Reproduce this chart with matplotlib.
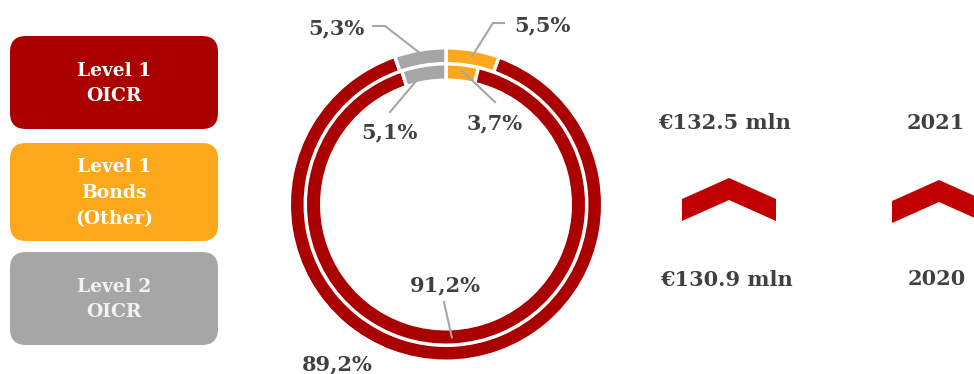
import numpy as np
import matplotlib.pyplot as plt
from matplotlib.patches import FancyBboxPatch, Polygon

# shares by category, clockwise from 12 o'clock
categories = ["Level 1\nBonds\n(Other)", "Level 1\nOICR", "Level 2\nOICR"]
share_2021 = [5.5, 89.2, 5.3]   # outer ring
share_2020 = [3.7, 91.2, 5.1]   # inner ring
label_2021 = ["5,5%", "89,2%", "5,3%"]
label_2020 = ["3,7%", "91,2%", "5,1%"]

legend_order = ["Level 1\nOICR", "Level 1\nBonds\n(Other)", "Level 2\nOICR"]
totals = ["€132.5 mln", "€130.9 mln"]
years = ["2021", "2020"]

RED = "#ab0000"
ORANGE = "#fda81b"
GREY = "#a6a6a6"
DARK = "#404040"
colors = {"Level 1\nOICR": RED, "Level 1\nBonds\n(Other)": ORANGE, "Level 2\nOICR": GREY}
legend_text = {"Level 1\nOICR": "white", "Level 1\nBonds\n(Other)": "white", "Level 2\nOICR": "#f2f2f2"}

W, H = 974, 374
fig = plt.figure(figsize=(W / 100, H / 100), dpi=100)
ax = fig.add_axes([0, 0, 1, 1])

SERIF = "DejaVu Serif"
cx, cy = 446, 204.5
edge = 2.5                      # white separator, points
pad = edge * 100 / 72 / 2       # half of it in pixels
r_out, r_in, ring_w = 155 + pad, 139 + pad, 13 + 2 * pad

wedge_colors = [colors[c] for c in categories]
wp = dict(width=ring_w, edgecolor="white", linewidth=edge)
outer, _ = ax.pie(share_2021, radius=r_out, center=(cx, cy), colors=wedge_colors,
                  startangle=-90, counterclock=True, wedgeprops=wp, frame=True)
inner, _ = ax.pie(share_2020, radius=r_in, center=(cx, cy), colors=wedge_colors,
                  startangle=-90, counterclock=True, wedgeprops=wp, frame=True)

ax.set_xlim(0, W)
ax.set_ylim(H, 0)
ax.set_aspect("equal")
ax.axis("off")


def mid_point(wedge, r):
    t = np.deg2rad((wedge.theta1 + wedge.theta2) / 2)
    return cx + r * np.cos(t), cy + r * np.sin(t)


line_kw = dict(color="#a6a6a6", lw=1.5, zorder=3)
lab_kw = dict(fontfamily=SERIF, fontweight="bold", fontsize=15, color=DARK, va="center")

# outer ring labels
x0, y0 = mid_point(outer[2], 153)
ax.plot([373, 385, x0], [26, 26, y0], **line_kw)
ax.text(336, 28, label_2021[2], ha="center", **lab_kw)

x0, y0 = mid_point(outer[0], 150)
ax.plot([504, 493, x0], [23, 23, y0], **line_kw)
ax.text(542, 25, label_2021[0], ha="center", **lab_kw)

ax.text(337, 364, label_2021[1], ha="center", **lab_kw)

# inner ring labels
x0, y0 = mid_point(inner[2], 135)
ax.plot([390, x0], [112, y0], **line_kw)
ax.text(389, 132, label_2020[2], ha="center", **lab_kw)

x0, y0 = mid_point(inner[0], 135)
ax.plot([495, x0], [102, y0], **line_kw)
ax.text(495, 123, label_2020[0], ha="center", **lab_kw)

x0, y0 = mid_point(inner[1], 133)
ax.plot([444, x0], [302, y0], **line_kw)
ax.text(445, 285, label_2020[1], ha="center", **lab_kw)

# legend boxes
box_tops = [36, 143, 252]
box_bottoms = [129, 241, 345]
for name, top, bot in zip(legend_order, box_tops, box_bottoms):
    ax.add_patch(FancyBboxPatch((10, top), 208, bot - top,
                                boxstyle="round,pad=0,rounding_size=16",
                                facecolor=colors[name], edgecolor="none"))
    ax.text(114, (top + bot) / 2 + 1, name, ha="center", va="center",
            fontfamily=SERIF, fontweight="bold", fontsize=13.5, linespacing=1.55,
            color=legend_text[name])


def chevron(x_left, y_top, w=94, h=43, t=22, color="#c00000"):
    apex = x_left + w / 2
    pts = [(x_left, y_top + h - t), (apex, y_top), (x_left + w, y_top + h - t),
           (x_left + w, y_top + h), (apex, y_top + t), (x_left, y_top + h)]
    ax.add_patch(Polygon(pts, closed=True, facecolor=color, edgecolor="none"))


chevron(682, 178)
chevron(892, 180)

txt_kw = dict(fontfamily=SERIF, fontweight="bold", fontsize=15, color=DARK,
              ha="center", va="center")
ax.text(725, 123, totals[0], **txt_kw)
ax.text(727, 280, totals[1], **txt_kw)
ax.text(936, 123, years[0], **txt_kw)
ax.text(937, 279, years[1], **txt_kw)

fig.savefig("out.png", dpi=100)
